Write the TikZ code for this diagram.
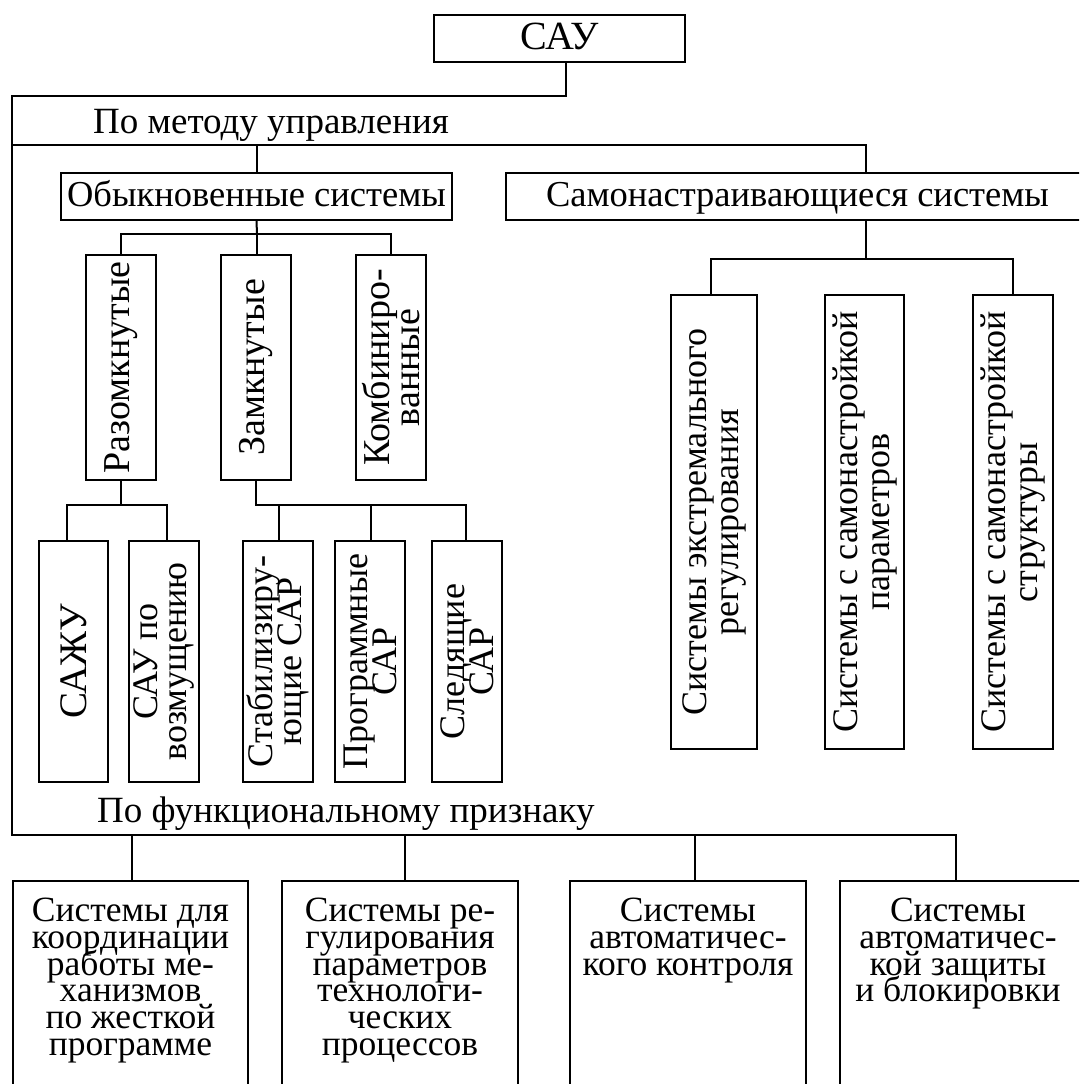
\documentclass[tikz,border=0pt]{standalone}
\usepackage{fontspec}
\setmainfont{Liberation Serif}
\newcommand\tightlines{\lineskiplimit-100pt\relax}
\begin{document}
\begin{tikzpicture}[x=1pt,y=-1pt,
  box/.style={draw, line width=2pt, inner sep=0pt},
  hbox/.style={box, font=\fontsize{36.5}{30}\selectfont, text height=26pt, text depth=7pt},
  vtxt/.style={rotate=90, inner sep=0pt, align=center, font=\fontsize{36}{29}\selectfont\tightlines},
  wtxt/.style={rotate=90, inner sep=0pt, align=center, font=\fontsize{38}{30}\selectfont\tightlines},
  btxt/.style={rotate=90, inner sep=0pt, align=center, font=\fontsize{36}{32}\selectfont\tightlines},
  ftxt/.style={inner sep=0pt, align=center, anchor=north, font=\fontsize{35.5}{26.7}\selectfont\tightlines},
  ltxt/.style={inner sep=0pt, anchor=base west, font=\fontsize{37}{30}\selectfont},
  conn/.style={line width=2pt},
]
\useasboundingbox (0,0) rectangle (1079,1084);
\clip (0,0) rectangle (1079,1084);

% horizontal boxes
\node[box, minimum width=251, minimum height=47, font=\fontsize{40}{30}\selectfont, text height=27pt, text depth=6pt] (sau) at (559.5,38.5) {САУ};
\node[hbox, minimum width=391, minimum height=47] (obyk) at (256.5,196.5) {Обыкновенные системы};
\node[hbox, minimum width=583, minimum height=47] (samo) at (797.5,196.5) {Самонастраивающиеся системы};

% labels
\node[ltxt] (lab1) at (93,133) {По методу управления};
\node[ltxt] (lab2) at (97,822) {По функциональному признаку};

% vertical boxes, level 1
\node[box, minimum width=70, minimum height=225] (raz) at (121,367.5) {};
\node[wtxt] (razt) at (raz) {Разомкнутые};
\node[box, minimum width=70, minimum height=225] (zam) at (256,367.5) {};
\node[wtxt] (zamt) at (zam) {Замкнутые};
\node[box, minimum width=70, minimum height=225] (komb) at (391,367.5) {};
\node[wtxt] (kombt) at (komb) {Комбиниро-\\ванные};

% vertical boxes, level 2
\node[box, minimum width=69, minimum height=241] (sazhu) at (73.5,661.5) {};
\node[wtxt, font=\fontsize{39}{30}\selectfont] (sazhut) at (sazhu) {САЖУ};
\node[box, minimum width=70, minimum height=241] (vozm) at (164,661.5) {};
\node[vtxt] (vozmt) at (vozm) {САУ по\\возмущению};
\node[box, minimum width=70, minimum height=241] (stab) at (278,661.5) {};
\node[vtxt] (stabt) at (stab) {Стабилизиру-\\ющие САР};
\node[box, minimum width=70, minimum height=241] (prog) at (370,661.5) {};
\node[vtxt] (progt) at (prog) {Программные\\САР};
\node[box, minimum width=70, minimum height=241] (sled) at (467,661.5) {};
\node[vtxt] (sledt) at (sled) {Следящие\\САР};

% self-adjusting
\node[box, minimum width=86, minimum height=454] (ext) at (714,522) {};
\node[btxt] (extt) at (ext) {Системы экстремального\\регулирования};
\node[box, minimum width=79, minimum height=454] (par) at (864.5,522) {};
\node[btxt] (part) at (par) {Системы с самонастройкой\\параметров};
\node[box, minimum width=80, minimum height=454] (str) at (1013,522) {};
\node[btxt] (strt) at (str) {Системы с самонастройкой\\структуры};

% bottom boxes
\node[box, minimum width=235, minimum height=219] (f1) at (130.5,990.5) {};
\node[ftxt] (f1t) at (130.5,898) {Системы для\\координации\\работы ме-\\ханизмов\\по жесткой\\программе};
\node[box, minimum width=236, minimum height=219] (f2) at (400,990.5) {};
\node[ftxt] (f2t) at (400,898) {Системы ре-\\гулирования\\параметров\\технологи-\\ческих\\процессов};
\node[box, minimum width=236, minimum height=219] (f3) at (688,990.5) {};
\node[ftxt] (f3t) at (688,898) {Системы\\автоматичес-\\кого контроля};
\node[box, minimum width=260, minimum height=219] (f4) at (970,990.5) {};
\node[ftxt] (f4t) at (958,898) {Системы\\автоматичес-\\кой защиты\\и блокировки};

% connector coordinates
\coordinate (L1) at (12,96);
\coordinate (L2) at (12,145);
\coordinate (L3) at (12,835);
\coordinate (m1) at (257,145);
\coordinate (m2) at (866,145);
\coordinate (ob) at (257,234);
\coordinate (r1) at (67,505);
\coordinate (r2) at (167,505);
\coordinate (z1) at (279,505);
\coordinate (z2) at (371,505);
\coordinate (z3) at (466,505);
\coordinate (s0) at (866,259);
\coordinate (s1) at (711,259);
\coordinate (s3) at (1013,259);
\coordinate (b1) at (132,835);
\coordinate (b2) at (405,835);
\coordinate (b3) at (695,835);
\coordinate (b4) at (956,835);

% connectors
\draw[conn] ([xshift=6.5pt]sau.south) |- (L1) -- (L3) -- (b4) -- (b4 |- f4.north);
\draw[conn] (L2) -- (m2) -- (m2 |- samo.north);
\draw[conn] (m1) -- (m1 |- obyk.north);
\draw[conn] (obyk.south) -- (ob);
\draw[conn] (raz.north) |- (ob) -| (komb.north);
\draw[conn] (ob) -- (ob |- zam.north);
\draw[conn] (raz.south) -- (raz.south |- r1);
\draw[conn] (r1 |- sazhu.north) -- (r1) -- (r2) -- (r2 |- vozm.north);
\draw[conn] (zam.south) |- (z3) -- (z3 |- sled.north);
\draw[conn] (z1) -- (z1 |- stab.north);
\draw[conn] (z2) -- (z2 |- prog.north);
\draw[conn] (m2 |- samo.south) -- (s0);
\draw[conn] (s1 |- ext.north) -- (s1) -- (s3) -- (s3 |- str.north);
\draw[conn] (b1) -- (b1 |- f1.north);
\draw[conn] (b2) -- (b2 |- f2.north);
\draw[conn] (b3) -- (b3 |- f3.north);
\end{tikzpicture}
\end{document}
